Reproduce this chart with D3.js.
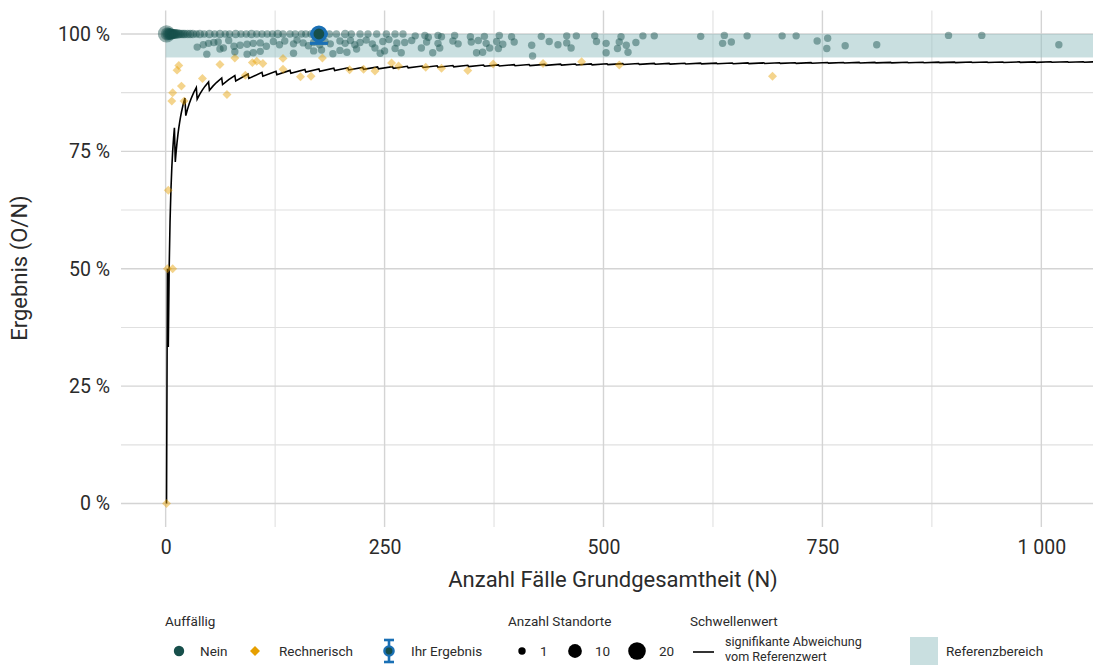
<!DOCTYPE html>
<html><head><meta charset="utf-8">
<script src="https://cdn.jsdelivr.net/npm/d3@7"></script>
<style>
body{margin:0;background:#fff}
svg{display:block}
text{font-family:Roboto, "Noto Sans", sans-serif}
</style>
</head><body>
<svg id="chart" width="1093" height="666"></svg>
<script>
// ---------- data ----------
const xTicks = [0, 250, 500, 750, 1000];
const xTickLabels = ["0", "250", "500", "750", "1 000"];
const xMinorTicks = [125, 375, 625, 875];
const yTicks = [0, 25, 50, 75, 100];
const yTickLabels = ["0 %", "25 %", "50 %", "75 %", "100 %"];
const yMinorTicks = [12.5, 37.5, 62.5, 87.5];
const referenceRange = [95, 100];

// Auffällig: Nein  [N, Ergebnis %, Anzahl Standorte]
const neinPoints = [
  [1,100,19],[2,100,9],[3,100,7],[4,100,6],[5,100,5],[6,100,5],[7,100,4],[8,100,4],[9,100,3],[10,100,3],
  [11,100,3],[12,100,3],[14,100,3],[16,100,2],[18,100,2],[20,100,2],[22,100,2],[25,100,2],[28,100,2],[31,100,2],
  [35,100,1],[39,100,2],[44,100,1],[50,100,2],[56,100,1],[62,100,2],[68,100,1],[73,100,1],[80,100,2],[86,100,1],
  [92,100,1],[98,100,2],[104,100,1],[110,100,1],[116,100,1],[122,100,1],[128,100,2],[134,100,1],[142,100,1],[148,100,1],
  [155,100,1],[160,100,1],[166,100,1],[187,100,1],[195,100,1],[205,100,2],[212,100,1],[222,100,1],[231,100,1],[241,100,1],
  [252,100,1],[262,100,1],[271,100,1],
  [285,99.6,1],[296,99.7,1],[300,99.3,1],[311,99.7,1],[315,99.4,1],[330,99.7,1],[348,99.4,1],[364,99.5,1],[381,99.7,1],[395,99.4,1],
  [429,99.5,1],[458,99.6,1],[469,99.6,1],[490,99.6,1],[520,99.4,1],[545,99.6,1],[558,99.6,1],[611,99.5,1],[638,99.7,1],[664,99.6,1],
  [704,99.6,1],[720,99.6,1],[894,99.7,1],[932,99.7,1],
  [36,97.2,1],[43,97.7,1],[49,98.0,1],[55,98.2,1],[60,98.3,1],[66,97.0,1],[72,98.6,1],[78,97.4,1],[85,97.6,1],[93,97.8,1],
  [100,98.0,1],[108,98.1,1],[115,97.4,1],[123,98.4,1],[130,97.7,1],[136,98.5,1],[146,97.9,1],[150,98.7,1],[157,98.1,1],[163,97.5,1],
  [169,98.2,1],[176,97.7,1],[182,98.4,1],[188,97.9,1],[199,98.5,1],[205,98.0,1],[211,98.6,1],[216,97.7,1],[222,98.2,1],[229,98.7,1],
  [236,97.9,1],[248,98.4,1],[255,98.8,1],[264,98.1,1],[273,98.2,1],[281,98.6,1],[298,98.3,1],[311,98.0,1],[328,98.5,1],[334,97.9,1],
  [349,98.3,1],[357,98.6,1],[366,98.0,1],[378,98.4,1],[385,97.8,1],[398,98.3,1],[418,97.6,1],[438,98.4,1],[448,97.7,1],[458,98.1,1],
  [492,98.4,1],[503,98.0,1],[518,98.3,1],[526,97.6,1],[537,98.2,1],[636,98.0,1],[646,98.3,1],[744,98.5,1],[756,99.1,1],[776,97.5,1],
  [812,97.7,1],[1020,97.7,1],
  [47,95.7,1],[62,96.8,1],[79,96.2,1],[93,95.7,1],[100,96.0,1],[108,96.3,1],[146,95.9,1],[169,96.4,1],[178,96.6,1],[191,95.8,1],
  [199,96.5,1],[207,96.1,1],[218,96.8,1],[239,97.0,1],[245,95.9,1],[250,96.4,1],[262,96.9,1],[269,96.0,1],[292,97.0,1],[305,96.0,1],
  [313,97.0,1],[355,96.0,1],[362,96.1,1],[370,97.0,1],[380,96.9,1],[419,95.3,1],[463,97.0,1],[503,96.0,1],[516,96.9,1],[528,96.1,1],
  [755,96.9,1]
];

// Auffällig: Rechnerisch [N, Ergebnis %]
const rechnerischPoints = [
  [1,0],[2,50],[8,50],[3,66.7],[7,85.7],[8,87.5],[13,92.3],[15,93.3],[18,88.9],[21,85.7],
  [42,90.5],[62,93.5],[70,87.1],[79,94.9],[91,91.2],[99,93.9],[104,94.2],[111,93.7],[134,94.8],[134,92.5],
  [154,90.9],[166,91.0],[179,94.9],[210,92.4],[226,92.5],[239,92.1],[258,93.8],[266,93.2],[297,92.9],[315,92.7],
  [345,92.2],[374,93.6],[431,93.7],[475,94.1],[518,93.4],[693,91.0]
];

// Ihr Ergebnis
const ihrN = [175];
const ihrPct = [100];
const ihrLower = [98];
const ihrUpper = [100];

// Schwellenwert: signifikante Abweichung vom Referenzwert [N, %]
const thresholdLine = [
  [1,0],[2,50],[3,33.33],[4,50],[5,60],[6,66.67],[7,71.43],[8,75],[9,77.78],[10,80],
  [11,72.73],[12,75],[13,76.92],[14,78.57],[15,80],[16,81.25],[17,82.35],[18,83.33],[20,85],[22,86.36],
  [23,82.61],[25,84],[27,85.19],[29,86.21],[32,87.5],[35,88.57],
  [36,86.11],[39,87.18],[42,88.1],[45,88.89],[49,89.8],
  [50,88],[54,88.89],[58,89.66],[64,90.63],
  [65,89.23],[72,90.28],[79,91.14],[80,90],[94,91.49],[95,90.53],[110,91.82],[111,90.99],[126,92.06],
  [127,91.34],[142,92.25],[143,91.61],[159,92.45],[160,91.88],[175,92.57],[176,92.05],[192,92.71],
  [193,92.23],[208,92.79],[209,92.34],[225,92.89],[226,92.48],[242,92.98],[243,92.59],[259,93.05],
  [260,92.69],[276,93.12],[277,92.78],[293,93.17],[294,92.86],[310,93.23],[311,92.93],[328,93.29],
  [329,93.01],[345,93.33],[346,93.06],[363,93.39],[364,93.13],[380,93.42],[381,93.18],[398,93.47],
  [399,93.23],[415,93.49],[416,93.27],[433,93.53],[434,93.32],[451,93.57],[452,93.36],[468,93.59],
  [469,93.39],[486,93.62],[487,93.43],[504,93.65],[505,93.47],[522,93.68],[523,93.5],[540,93.7],
  [541,93.53],[558,93.73],[559,93.56],[575,93.74],[576,93.58],[593,93.76],[594,93.6],[611,93.78],
  [612,93.63],[629,93.8],[630,93.65],[647,93.82],[648,93.67],[665,93.84],[666,93.69],[683,93.85],
  [684,93.71],[701,93.87],[702,93.73],[719,93.88],[720,93.75],[737,93.89],[738,93.77],[756,93.92],
  [757,93.79],[774,93.93],[775,93.81],[792,93.94],[793,93.82],[810,93.95],[811,93.84],[828,93.96],
  [829,93.85],[847,93.98],[848,93.87],[865,93.99],[866,93.88],[883,94],[884,93.89],[901,94.01],
  [902,93.9],[920,94.02],[921,93.92],[938,94.03],[939,93.93],[956,94.04],[957,93.94],[975,94.05],
  [976,93.96],[993,94.06],[994,93.96],[1011,94.07],[1012,93.97],[1030,94.08],[1031,93.99],[1048,94.08],
  [1049,93.99],[1066,94.09]
];

const sizeLegendValues = [1, 10, 20];

// ---------- drawing ----------
const svg = d3.select("#chart");
const panel = {left: 121, right: 1093, top: 10.5, bottom: 527};

const x = d3.scaleLinear().domain([-51, 1059]).range([panel.left, panel.right]);
const y = d3.scaleLinear().domain([-5, 105]).range([panel.bottom, panel.top]);
const r = d3.scaleSqrt().domain([1, 20]).range([3.7, 8.8]);

const colNein = "#174f4b", colRech = "#e69f00", colIhr = "#1a70b5", colBand = "#93bfc2";
const textCol = "#2b2b2b";

svg.append("defs").append("clipPath").attr("id", "clip")
  .append("rect").attr("x", panel.left).attr("y", panel.top)
  .attr("width", panel.right - panel.left).attr("height", panel.bottom - panel.top);

// grid
const grid = svg.append("g");
grid.selectAll(".hmin").data(yMinorTicks).join("line")
  .attr("x1", panel.left).attr("x2", panel.right)
  .attr("y1", d => y(d)).attr("y2", d => y(d))
  .attr("stroke", "#e0e0e0").attr("stroke-width", 1.1);
grid.selectAll(".vmin").data(xMinorTicks).join("line")
  .attr("y1", panel.top).attr("y2", panel.bottom)
  .attr("x1", d => x(d)).attr("x2", d => x(d))
  .attr("stroke", "#e0e0e0").attr("stroke-width", 1.1);
grid.selectAll(".hmaj").data(yTicks).join("line")
  .attr("x1", panel.left).attr("x2", panel.right)
  .attr("y1", d => y(d)).attr("y2", d => y(d))
  .attr("stroke", "#d4d4d4").attr("stroke-width", 1.4);
grid.selectAll(".vmaj").data(xTicks).join("line")
  .attr("y1", panel.top).attr("y2", panel.bottom)
  .attr("x1", d => x(d)).attr("x2", d => x(d))
  .attr("stroke", "#d4d4d4").attr("stroke-width", 1.4);

const plot = svg.append("g").attr("clip-path", "url(#clip)");

// reference band
plot.append("rect")
  .attr("x", x(0)).attr("width", panel.right - x(0))
  .attr("y", y(referenceRange[1])).attr("height", y(referenceRange[0]) - y(referenceRange[1]))
  .attr("fill", colBand).attr("opacity", 0.5);

// threshold line
plot.append("path")
  .datum(thresholdLine)
  .attr("d", d3.line().x(d => x(d[0])).y(d => y(d[1])))
  .attr("fill", "none").attr("stroke", "#000").attr("stroke-width", 1.6)
  .attr("stroke-linejoin", "miter");

// Rechnerisch diamonds
plot.selectAll(".rech").data(rechnerischPoints).join("path")
  .attr("d", d3.symbol(d3.symbolSquare, 40))
  .attr("transform", d => `translate(${x(d[0])},${y(d[1])}) rotate(45)`)
  .attr("fill", colRech).attr("opacity", 0.45);

// Nein points (large first)
plot.selectAll(".nein").data(neinPoints.slice().sort((a, b) => b[2] - a[2])).join("circle")
  .attr("cx", d => x(d[0])).attr("cy", d => y(d[1])).attr("r", d => r(d[2]))
  .attr("fill", colNein).attr("fill-opacity", 0.45);

// Ihr Ergebnis
const ihr = svg.append("g");
ihrN.forEach((n, i) => {
  const cx = x(n);
  ihr.append("line").attr("x1", cx).attr("x2", cx).attr("y1", y(ihrLower[i])).attr("y2", y(ihrUpper[i]))
    .attr("stroke", colIhr).attr("stroke-width", 3);
  [ihrLower[i], ihrUpper[i]].forEach(v => {
    ihr.append("line").attr("x1", cx - 9).attr("x2", cx + 9).attr("y1", y(v)).attr("y2", y(v))
      .attr("stroke", colIhr).attr("stroke-width", 3);
  });
  ihr.append("circle").attr("cx", cx).attr("cy", y(ihrPct[i])).attr("r", 7)
    .attr("fill", colNein).attr("stroke", colIhr).attr("stroke-width", 3.2);
});

// axes
const yAxis = svg.append("g").attr("transform", `translate(${panel.left},0)`)
  .call(d3.axisLeft(y).tickValues(yTicks).tickSize(0).tickPadding(11)
    .tickFormat((d, i) => yTickLabels[i]));
yAxis.select(".domain").remove();
yAxis.selectAll("text").attr("font-size", 19.5).attr("fill", textCol).attr("font-family", "Roboto");

const xAxis = svg.append("g").attr("transform", `translate(0,${panel.bottom})`)
  .call(d3.axisBottom(x).tickValues(xTicks).tickSize(0).tickPadding(13)
    .tickFormat((d, i) => xTickLabels[i]));
xAxis.select(".domain").remove();
xAxis.selectAll("text").attr("font-size", 19.5).attr("fill", textCol).attr("font-family", "Roboto");

svg.append("text").attr("x", 613).attr("y", 587).attr("text-anchor", "middle")
  .attr("font-size", 22).attr("fill", textCol).text("Anzahl Fälle Grundgesamtheit (N)");
svg.append("text").attr("transform", "translate(27,268) rotate(-90)").attr("text-anchor", "middle")
  .attr("font-size", 22).attr("fill", textCol).text("Ergebnis (O/N)");

// legend
const lg = svg.append("g").attr("font-size", 13.5).attr("fill", textCol);
const ly = 651;
lg.append("text").attr("x", 165).attr("y", 626).text("Auffällig");
lg.append("circle").attr("cx", 179).attr("cy", ly).attr("r", 5.2).attr("fill", colNein);
lg.append("text").attr("x", 200).attr("y", ly + 5).text("Nein");
lg.append("path").attr("d", d3.symbol(d3.symbolSquare, 50)())
  .attr("transform", `translate(255,${ly}) rotate(45)`).attr("fill", colRech);
lg.append("text").attr("x", 279).attr("y", ly + 5).text("Rechnerisch");
lg.append("line").attr("x1", 389).attr("x2", 389).attr("y1", ly - 11).attr("y2", ly + 11)
  .attr("stroke", colIhr).attr("stroke-width", 2.6);
[ly - 11, ly + 11].forEach(v => lg.append("line").attr("x1", 384).attr("x2", 394)
  .attr("y1", v).attr("y2", v).attr("stroke", colIhr).attr("stroke-width", 2.6));
lg.append("circle").attr("cx", 389).attr("cy", ly).attr("r", 4.6).attr("fill", colNein)
  .attr("stroke", colIhr).attr("stroke-width", 2.4);
lg.append("text").attr("x", 411).attr("y", ly + 5).text("Ihr Ergebnis");

lg.append("text").attr("x", 508).attr("y", 626).text("Anzahl Standorte");
const sizeX = [522, 575, 637], sizeLX = [540, 595, 659];
sizeLegendValues.forEach((v, i) => {
  lg.append("circle").attr("cx", sizeX[i]).attr("cy", ly).attr("r", r(v)).attr("fill", "#000");
  lg.append("text").attr("x", sizeLX[i]).attr("y", ly + 5).text(v);
});

lg.append("text").attr("x", 690).attr("y", 626).text("Schwellenwert");
lg.append("line").attr("x1", 693).attr("x2", 714).attr("y1", ly + 1).attr("y2", ly + 1)
  .attr("stroke", "#000").attr("stroke-width", 1.6);
lg.append("text").attr("x", 725).attr("y", 646).attr("font-size", 12.6).text("signifikante Abweichung");
lg.append("text").attr("x", 725).attr("y", 661).attr("font-size", 12.6).text("vom Referenzwert");

lg.append("rect").attr("x", 910).attr("y", 637).attr("width", 28).attr("height", 28)
  .attr("fill", colBand).attr("opacity", 0.5);
lg.append("text").attr("x", 946).attr("y", ly + 5).text("Referenzbereich");
</script>
</body></html>
